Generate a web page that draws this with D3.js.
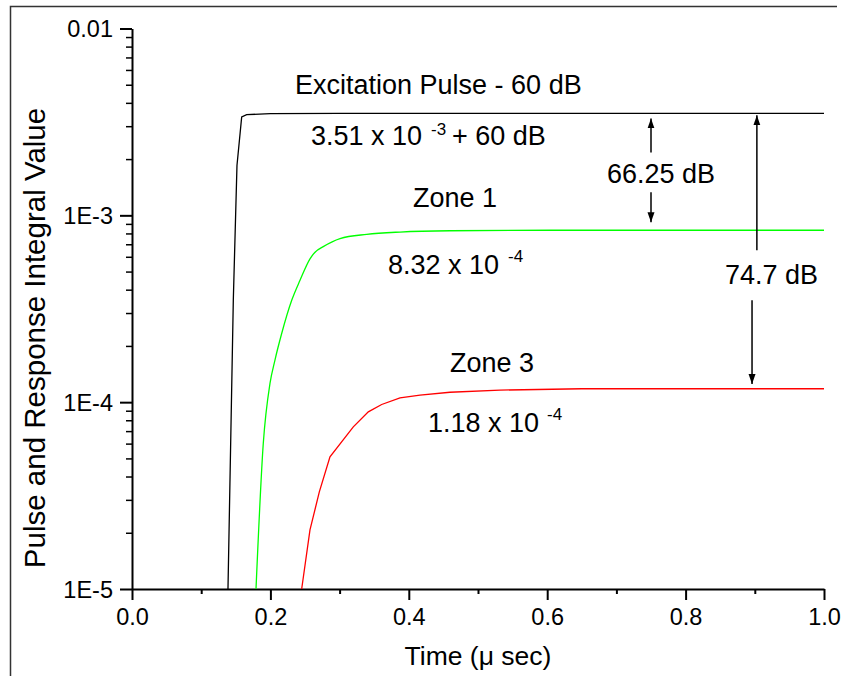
<!DOCTYPE html>
<html>
<head>
<meta charset="utf-8">
<script src="https://cdn.jsdelivr.net/npm/d3@7"></script>
<style>
  html, body { margin: 0; padding: 0; background: #fff; }
  svg { display: block; }
  text { font-family: "Liberation Sans", Arial, Helvetica, sans-serif; fill: #000; }
</style>
</head>
<body>
<svg id="chart" width="846" height="676"></svg>
<script>
// ---------- data ----------
const excTime  = [0.1387, 0.1464, 0.1517, 0.1585, 0.1657, 0.20, 0.30, 0.50, 0.75, 1.0];
const excValue = [1e-5, 3.51e-4, 1.85e-3, 3.36e-3, 3.46e-3, 3.50e-3, 3.51e-3, 3.51e-3, 3.51e-3, 3.51e-3];

const zone1Time  = [0.1792, 0.1897, 0.1994, 0.2066, 0.2163, 0.2308, 0.2428, 0.2572, 0.2645, 0.2764, 0.3006, 0.3392, 0.3873, 0.4595, 0.604, 0.8, 1.0];
const zone1Value = [1e-5, 6.01e-5, 1.26e-4, 1.68e-4, 2.33e-4, 3.51e-4, 4.49e-4, 5.85e-4, 6.35e-4, 6.80e-4, 7.51e-4, 7.91e-4, 8.14e-4, 8.27e-4, 8.32e-4, 8.32e-4, 8.32e-4];

const zone3Time  = [0.2452, 0.2572, 0.2707, 0.2861, 0.3198, 0.3415, 0.3608, 0.3873, 0.4162, 0.4595, 0.5318, 0.65, 1.0];
const zone3Value = [1e-5, 2.07e-5, 3.31e-5, 5.10e-5, 7.38e-5, 8.87e-5, 9.72e-5, 1.055e-4, 1.09e-4, 1.13e-4, 1.16e-4, 1.18e-4, 1.18e-4];

const xTickValues = [0.0, 0.2, 0.4, 0.6, 0.8, 1.0];
const xTickLabels = ["0.0", "0.2", "0.4", "0.6", "0.8", "1.0"];
const xMinorValues = [0.1, 0.3, 0.5, 0.7, 0.9];

const yTickValues = [1e-5, 1e-4, 1e-3, 1e-2];
const yTickLabels = ["1E-5", "1E-4", "1E-3", "0.01"];

// arrows: [time, fromValue, toValue]
const arrowTime  = [0.75, 0.75, 0.903, 0.896];
const arrowFrom  = [2.17e-3, 1.33e-3, 6.50e-4, 3.51e-4];
const arrowTo    = [3.30e-3, 9.18e-4, 3.43e-3, 1.25e-4];

// ---------- layout ----------
const svg = d3.select("#chart");
const x = d3.scaleLinear().domain([0, 1]).range([132, 824]);
const y = d3.scaleLog().domain([1e-5, 1e-2]).range([589, 28.5]);

// outer frame (left + top)
svg.append("path")
  .attr("d", "M10.5,676 L10.5,6.5 L837,6.5")
  .attr("fill", "none").attr("stroke", "#333").attr("stroke-width", 1.5);

// minor y ticks
const yMinor = [];
for (let e = -5; e < -2; e++) for (let m = 2; m <= 9; m++) yMinor.push(m * Math.pow(10, e));

const gyMinor = svg.append("g").attr("transform", "translate(132,0)")
  .call(d3.axisLeft(y).tickValues(yMinor).tickSize(6).tickSizeOuter(0).tickFormat(""));
gyMinor.select(".domain").remove();
gyMinor.selectAll("line").attr("stroke-width", 1.5);

const gy = svg.append("g").attr("transform", "translate(132,0)")
  .call(d3.axisLeft(y).tickValues(yTickValues).tickSize(12).tickSizeOuter(0)
    .tickFormat((d, i) => yTickLabels[i]));
gy.attr("font-size", null).attr("font-family", null);
gy.select(".domain").attr("stroke-width", 2);
gy.selectAll("line").attr("stroke-width", 2);
gy.selectAll("text").attr("x", -19).attr("dy", "0.36em")
  .style("font-size", "23.5px")
  .style("font-family", '"Liberation Sans", Arial, sans-serif');

// x axis
const gxMinor = svg.append("g").attr("transform", "translate(0,589)")
  .call(d3.axisBottom(x).tickValues(xMinorValues).tickSize(5).tickSizeOuter(0).tickFormat(""));
gxMinor.select(".domain").remove();
gxMinor.selectAll("line").attr("stroke-width", 2);

const gx = svg.append("g").attr("transform", "translate(0,589)")
  .call(d3.axisBottom(x).tickValues(xTickValues).tickSize(11).tickSizeOuter(0)
    .tickFormat((d, i) => xTickLabels[i]));
gx.attr("font-size", null).attr("font-family", null);
gx.select(".domain").attr("stroke-width", 2);
gx.selectAll("line").attr("stroke-width", 2);
gx.selectAll("text").attr("y", 19).attr("dy", "0.71em")
  .style("font-size", "23.5px")
  .style("font-family", '"Liberation Sans", Arial, sans-serif');

// axis titles
svg.append("text").attr("x", 478).attr("y", 665).attr("text-anchor", "middle")
  .attr("font-size", 26.5).text("Time (\u03bc sec)");
svg.append("text").attr("transform", "translate(45,338) rotate(-90)")
  .attr("text-anchor", "middle").attr("font-size", 29.5).text("Pulse and Response Integral Value");

// curves
const lineStraight = d3.line().x(d => x(d[0])).y(d => y(d[1]));
const lineSmooth = d3.line().x(d => x(d[0])).y(d => y(d[1])).curve(d3.curveMonotoneX);
function series(t, v) { return t.map((d, i) => [d, v[i]]); }

svg.append("path").datum(series(excTime, excValue)).attr("d", lineStraight)
  .attr("fill", "none").attr("stroke", "#000").attr("stroke-width", 1.3);
svg.append("path").datum(series(zone1Time, zone1Value)).attr("d", lineSmooth)
  .attr("fill", "none").attr("stroke", "#00ff00").attr("stroke-width", 1.3);
svg.append("path").datum(series(zone3Time, zone3Value)).attr("d", lineStraight)
  .attr("fill", "none").attr("stroke", "#ff0000").attr("stroke-width", 1.3);

// arrows
svg.append("defs").append("marker")
  .attr("id", "ah").attr("viewBox", "0 0 10 10").attr("refX", 10).attr("refY", 5)
  .attr("markerWidth", 10).attr("markerHeight", 10).attr("markerUnits", "userSpaceOnUse")
  .attr("orient", "auto")
  .append("path").attr("d", "M0,1.5 L10,5 L0,8.5 Z").attr("fill", "#000");

arrowTime.forEach((t, i) => {
  svg.append("line")
    .attr("x1", x(t)).attr("x2", x(t))
    .attr("y1", y(arrowFrom[i])).attr("y2", y(arrowTo[i]))
    .attr("stroke", "#000").attr("stroke-width", 1.5)
    .attr("marker-end", "url(#ah)");
});

// annotations
const fsA = 27, fsS = 17;
function label(txt, px, py, fs) {
  svg.append("text").attr("x", px).attr("y", py).attr("font-size", fs).text(txt);
}
label("Excitation Pulse - 60 dB", 295, 94, fsA);
label("3.51 x 10", 311, 145, fsA);
label("-3", 431, 135, fsS);
label("+ 60 dB", 452, 145, fsA);
label("Zone 1", 413, 207, fsA);
label("8.32 x 10", 388, 274, fsA);
label("-4", 508, 262, fsS);
label("Zone 3", 450, 372, fsA);
label("1.18 x 10", 428, 432, fsA);
label("-4", 547, 420, fsS);
label("66.25 dB", 607, 183, fsA);
label("74.7 dB", 725, 284, fsA);
</script>
</body>
</html>
